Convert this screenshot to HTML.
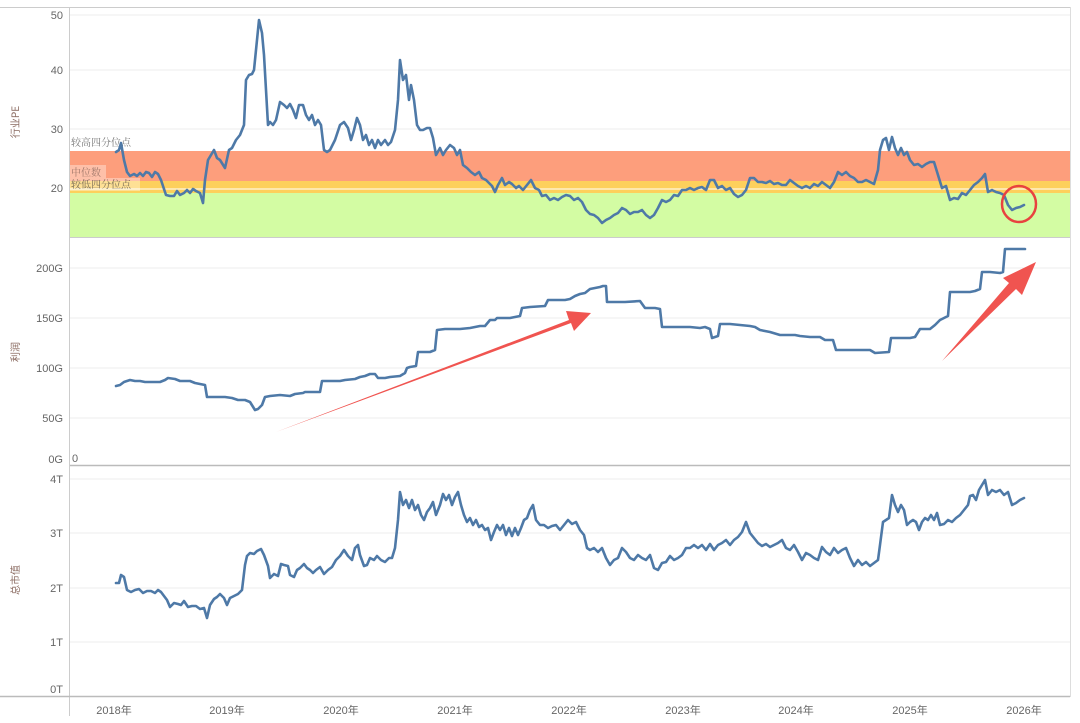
<!DOCTYPE html>
<html><head><meta charset="utf-8"><style>
html,body{margin:0;padding:0;background:#fff;}
svg{display:block;font-family:"Liberation Sans","Noto Sans CJK SC",sans-serif;}
.t{font-size:11px;fill:#666;}
.g{stroke:#eeeeee;stroke-width:1;}
.s{fill:none;stroke:#4e79a7;stroke-width:2.6;stroke-linejoin:round;stroke-linecap:round;}
.at{font-size:10px;fill:#8a6a60;font-family:"Noto Sans CJK SC",sans-serif;}
</style></head><body>
<svg width="1080" height="723" viewBox="0 0 1080 723">
<rect width="1080" height="723" fill="#fff"/>
<!-- top panel -->
<line class="g" x1="69" y1="15" x2="1070" y2="15"/>
<line class="g" x1="69" y1="70" x2="1070" y2="70"/>
<line class="g" x1="69" y1="129" x2="1070" y2="129"/>
<rect x="69" y="151" width="1001" height="30" fill="#fd9e7c"/>
<rect x="69" y="181" width="1001" height="12" fill="#fdd05c"/>
<rect x="69" y="193" width="1001" height="44" fill="#d3fca3"/>
<line x1="69" y1="189" x2="1070" y2="189" stroke="#fff" stroke-width="1"/>
<rect x="70" y="165" width="36" height="13" fill="#fff" opacity="0.35"/>
<rect x="70" y="178" width="70" height="13" fill="#fff" opacity="0.35"/>
<text x="71" y="146" style="font-size:10px;fill:#777;font-family:'Noto Serif CJK SC',serif">较高四分位点</text>
<text x="71" y="176" style="font-size:10px;fill:#a0776a;font-family:'Noto Serif CJK SC',serif">中位数</text>
<text x="71" y="188" style="font-size:10px;fill:#776a55;font-family:'Noto Serif CJK SC',serif">较低四分位点</text>
<text class="t" x="63" y="19" text-anchor="end">50</text>
<text class="t" x="63" y="74" text-anchor="end">40</text>
<text class="t" x="63" y="133" text-anchor="end">30</text>
<text class="t" x="63" y="192" text-anchor="end">20</text>
<text class="at" transform="translate(19,122) rotate(-90)" text-anchor="middle">行业PE</text>
<polyline class="s" points="116,152 119,150 121,143 124,160 127,172 130,176 134,174 137,176 140,173 143,176 146,172 149,173 152,177 155,172 158,174 161,180 163,186 166,195 170,196 174,196 177,191 180,195 184,193 187,190 190,193 193,189 196,191 200,193 203,203 205,180 208,160 211,155 214,150 217,158 220,160 225,168 229,150 232,148 236,140 240,135 244,125 246,80 249,75 252,74 254,70 257,40 259,20 262,33 264,55 266,90 268,125 270,122 273,125 276,120 280,102 284,105 287,108 290,104 293,110 296,118 299,105 303,105 306,115 309,120 312,115 315,125 318,120 321,125 324,150 327,152 330,150 335,140 340,125 344,122 348,128 351,140 354,130 357,118 360,125 363,140 366,135 369,145 372,140 375,148 378,140 381,145 385,140 388,145 391,142 395,130 398,100 400,60 403,80 406,75 409,100 411,85 414,100 417,125 420,130 423,130 427,128 430,128 433,138 436,155 440,148 443,155 446,150 450,145 454,148 457,155 460,150 463,165 467,168 471,172 475,175 479,172 482,178 486,180 489,183 492,186 495,192 498,185 502,178 505,185 509,182 512,184 516,188 519,186 523,190 527,185 531,180 535,188 539,190 542,196 546,195 550,200 554,198 558,200 562,197 566,195 570,196 574,200 578,198 582,202 586,210 590,214 594,215 598,218 602,223 606,220 610,218 614,215 618,213 622,208 626,210 630,214 634,212 638,212 642,210 646,215 650,218 654,215 658,208 662,200 666,202 670,200 674,195 678,196 682,190 686,190 690,188 694,190 698,188 702,187 706,190 710,180 714,180 718,188 722,186 726,190 730,188 734,194 738,197 742,195 746,190 750,178 754,178 758,182 762,182 766,183 770,181 774,184 778,183 782,185 786,185 790,180 794,183 798,186 802,188 806,186 810,188 814,184 818,186 822,182 826,185 830,188 834,182 838,172 842,175 846,172 850,176 854,178 858,182 862,182 866,180 870,182 874,184 878,170 880,150 883,140 886,138 889,150 892,137 895,148 898,155 901,148 904,155 907,152 910,160 914,165 918,164 922,167 926,164 930,162 934,162 938,175 942,188 946,186 950,200 954,198 958,199 962,193 966,195 970,190 974,185 978,182 982,178 985,174 988,192 992,190 996,192 1000,193 1004,195 1008,205 1012,210 1016,208 1020,207 1024,205"/>
<ellipse cx="1019" cy="204" rx="17" ry="18" fill="none" stroke="#e8423f" stroke-width="2.5"/>
<line x1="69" y1="237.5" x2="1070" y2="237.5" stroke="#ccc"/>
<!-- middle panel -->
<line class="g" x1="69" y1="268" x2="1070" y2="268"/>
<line class="g" x1="69" y1="318" x2="1070" y2="318"/>
<line class="g" x1="69" y1="368" x2="1070" y2="368"/>
<line class="g" x1="69" y1="418" x2="1070" y2="418"/>
<text class="t" x="63" y="272" text-anchor="end">200G</text>
<text class="t" x="63" y="322" text-anchor="end">150G</text>
<text class="t" x="63" y="372" text-anchor="end">100G</text>
<text class="t" x="63" y="422" text-anchor="end">50G</text>
<text class="t" x="63" y="463" text-anchor="end">0G</text>
<text class="t" x="72" y="462">0</text>
<text class="at" transform="translate(19,352) rotate(-90)" text-anchor="middle">利润</text>
<polyline class="s" points="116,386 120,385 124,382 130,380 135,381 140,381 145,382 150,382 160,382 165,380 168,378 175,379 180,381 190,381 195,383 200,384 205,385 207,397 215,397 225,397 232,398 238,400 245,400 250,402 255,410 258,409 262,405 265,397 270,396 280,395 290,396 295,394 303,393 305,392 315,392 320,392 322,381 330,381 340,381 345,380 355,379 360,377 365,376 370,374 375,374 378,378 385,378 390,377 400,376 405,373 407,368 410,367 416,366 418,352 425,352 430,352 435,350 437,330 445,329 460,329 470,328 475,327 480,326 485,326 490,320 495,320 497,318 510,318 520,316 522,308 530,307 545,306 548,300 556,300 565,300 570,299 575,296 580,294 585,293 590,289 595,288 600,287 603,286 606,286 607,302 625,302 640,301 645,308 655,308 660,309 662,327 680,327 690,327 700,328 705,327 710,329 712,338 718,336 720,324 730,324 740,325 750,326 755,327 760,330 770,332 780,335 795,335 800,336 810,337 820,337 825,340 833,340 836,350 850,350 860,350 865,350 870,350 875,353 889,352 891,338 910,338 915,337 920,329 930,329 935,325 940,320 944,318 948,316 950,292 958,292 970,292 975,291 980,289 982,272 990,272 1000,273 1003,272 1005,249 1025,249"/>
<polygon points="276,432 569,320 566,311 591,313 574,331 571,323" fill="#f05450"/>
<polygon points="942,361 1009,283 1003,278 1036,262 1022,295 1016,289" fill="#f05450"/>
<line x1="69" y1="465.5" x2="1070" y2="465.5" stroke="#bbb" stroke-width="1.5"/>
<!-- bottom panel -->
<line class="g" x1="69" y1="479" x2="1070" y2="479"/>
<line class="g" x1="69" y1="533" x2="1070" y2="533"/>
<line class="g" x1="69" y1="588" x2="1070" y2="588"/>
<line class="g" x1="69" y1="642" x2="1070" y2="642"/>
<text class="t" x="63" y="483" text-anchor="end">4T</text>
<text class="t" x="63" y="537" text-anchor="end">3T</text>
<text class="t" x="63" y="592" text-anchor="end">2T</text>
<text class="t" x="63" y="646" text-anchor="end">1T</text>
<text class="t" x="63" y="693" text-anchor="end">0T</text>
<text class="at" transform="translate(19,580) rotate(-90)" text-anchor="middle">总市值</text>
<polyline class="s" points="116,583 119,583 121,575 124,577 127,590 131,592 135,590 139,589 143,593 147,591 151,591 155,593 158,590 161,592 164,596 167,600 170,607 174,603 178,604 181,605 184,601 188,607 192,606 196,606 200,609 204,608 207,618 210,605 214,599 217,597 220,594 224,598 227,605 230,598 234,596 238,594 242,590 245,565 247,556 250,553 254,554 257,551 261,549 264,555 268,566 270,578 274,574 278,576 281,564 284,565 288,566 290,575 294,577 297,570 300,568 304,564 307,568 310,570 313,573 316,570 320,567 324,574 328,570 332,567 336,560 340,556 344,550 348,556 352,560 355,548 358,545 360,555 364,566 367,565 370,558 374,560 377,556 381,560 385,562 389,558 392,558 395,548 398,520 400,492 403,505 406,500 409,508 412,500 415,510 418,505 421,515 424,520 427,512 430,508 433,502 436,515 440,505 443,494 446,500 449,495 452,505 455,497 458,492 461,505 464,515 467,522 470,518 473,525 476,520 479,527 482,525 485,530 488,528 491,540 494,532 497,525 500,530 503,525 506,535 509,528 512,536 515,528 518,535 521,528 524,520 527,518 530,510 533,505 536,520 540,525 544,525 548,528 552,526 556,525 560,530 564,525 568,520 572,524 576,522 580,530 584,535 587,548 590,550 594,548 598,552 602,548 606,558 610,565 614,560 618,558 622,548 626,552 630,558 634,560 638,555 642,558 646,560 650,555 654,568 658,570 662,563 666,562 670,556 674,560 678,558 682,555 686,548 690,548 694,545 698,548 702,545 706,550 710,544 714,550 718,545 722,543 726,540 730,545 734,540 738,537 742,532 746,522 750,533 754,538 758,543 762,546 766,544 770,547 774,545 778,543 782,540 786,548 790,550 794,545 798,552 802,560 806,553 810,555 814,558 818,560 822,547 826,552 830,555 834,548 838,553 842,550 846,548 850,558 854,566 858,560 862,565 866,562 870,566 874,563 878,560 880,545 883,522 886,520 889,518 892,495 895,505 898,512 901,505 904,510 907,525 910,522 913,520 916,522 919,530 922,522 925,518 928,520 931,515 934,520 937,513 940,525 944,524 948,520 952,522 956,518 960,515 964,510 968,505 970,496 973,495 976,500 979,490 982,485 985,480 988,495 992,490 996,492 1000,490 1004,495 1008,492 1012,505 1016,503 1020,500 1024,498"/>
<!-- frame -->
<line x1="0" y1="7.5" x2="1070" y2="7.5" stroke="#ccc"/>
<line x1="69.5" y1="7" x2="69.5" y2="716" stroke="#ccc"/>
<line x1="1070.5" y1="7" x2="1070.5" y2="697" stroke="#ddd"/>
<line x1="0" y1="696.5" x2="1070" y2="696.5" stroke="#bbb" stroke-width="1.5"/>
<g class="t" text-anchor="middle">
<text x="114" y="714">2018年</text><text x="227" y="714">2019年</text><text x="341" y="714">2020年</text>
<text x="455" y="714">2021年</text><text x="569" y="714">2022年</text><text x="683" y="714">2023年</text>
<text x="796" y="714">2024年</text><text x="910" y="714">2025年</text><text x="1024" y="714">2026年</text>
</g>
</svg>
</body></html>
